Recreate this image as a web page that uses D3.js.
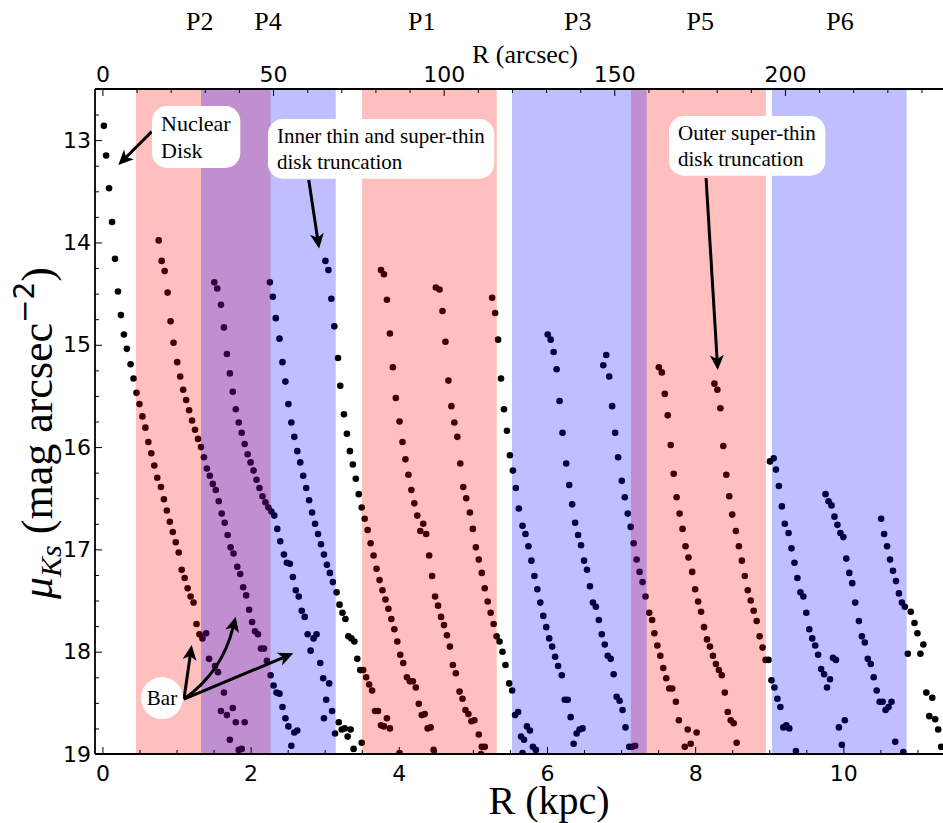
<!DOCTYPE html>
<html><head><meta charset="utf-8">
<script src="https://cdn.jsdelivr.net/npm/d3@7"></script>
<style>body{margin:0;background:#fff}svg{display:block}</style>
</head><body>
<svg id="chart" width="943" height="823"></svg>
<script>
// ---------------- data ----------------
const strand1 = [[0.02,12.86],[0.05,13.15],[0.09,13.47],[0.13,13.80],[0.17,14.16],[0.21,14.48],[0.25,14.71],[0.29,14.90],[0.33,15.04],[0.38,15.19],[0.42,15.33],[0.46,15.47],[0.50,15.58],[0.54,15.70],[0.58,15.81],[0.62,15.95],[0.66,16.06],[0.70,16.18],[0.74,16.30],[0.79,16.39],[0.83,16.51],[0.87,16.62],[0.91,16.73],[0.95,16.83],[0.99,16.93],[1.03,17.03],[1.07,17.20],[1.11,17.28],[1.15,17.38],[1.19,17.46],[1.23,17.52],[1.27,17.73],[1.31,17.83],[1.35,17.87],[1.40,17.82],[1.44,18.07],[1.52,18.14],[1.56,18.20],[1.60,18.58],[1.64,18.40],[1.68,18.62],[1.72,18.86],[1.76,18.55],[1.80,18.69],[1.84,18.96],[1.88,18.95],[1.92,18.69]];
const strand2 = [[0.76,13.98],[0.80,14.18],[0.84,14.28],[0.88,14.49],[0.92,14.77],[0.96,14.98],[1.01,15.17],[1.05,15.31],[1.09,15.44],[1.13,15.54],[1.17,15.64],[1.21,15.74],[1.25,15.83],[1.29,15.92],[1.33,16.00],[1.37,16.10],[1.41,16.21],[1.45,16.28],[1.49,16.36],[1.53,16.42],[1.57,16.53],[1.61,16.65],[1.65,16.74],[1.69,16.86],[1.73,16.98],[1.77,17.04],[1.82,17.17],[1.86,17.24],[1.90,17.37],[1.94,17.45],[1.98,17.59],[2.02,17.71],[2.06,17.80],[2.10,17.83],[2.14,17.97],[2.18,17.97],[2.22,18.09],[2.27,18.23],[2.31,18.33],[2.35,18.40],[2.39,18.41],[2.43,18.54],[2.47,18.65],[2.51,18.73],[2.55,18.92],[2.59,18.79],[2.63,18.77]];
const strand3 = [[1.51,14.39],[1.55,14.45],[1.60,14.61],[1.64,14.83],[1.68,15.09],[1.72,15.28],[1.76,15.46],[1.80,15.63],[1.84,15.76],[1.88,15.86],[1.92,15.97],[1.96,16.07],[2.00,16.15],[2.04,16.23],[2.08,16.32],[2.12,16.40],[2.16,16.48],[2.20,16.54],[2.24,16.59],[2.28,16.63],[2.32,16.67],[2.36,16.80],[2.40,16.92],[2.45,17.05],[2.49,17.13],[2.53,17.14],[2.57,17.27],[2.61,17.40],[2.65,17.46],[2.69,17.60],[2.73,17.66],[2.77,17.83],[2.81,17.99],[2.85,17.87],[2.89,17.83],[2.94,18.11],[2.98,18.26],[2.99,18.65],[3.02,18.47],[3.06,18.31],[3.10,18.58],[3.14,18.80],[3.19,18.69],[3.23,18.76],[3.27,18.75],[3.31,18.83],[3.35,18.76],[3.39,18.95],[3.50,18.89]];
const strand4 = [[2.26,14.39],[2.30,14.53],[2.34,14.74],[2.39,14.94],[2.43,15.17],[2.47,15.36],[2.51,15.58],[2.55,15.76],[2.59,15.90],[2.63,16.04],[2.67,16.15],[2.71,16.28],[2.75,16.40],[2.79,16.52],[2.83,16.64],[2.87,16.75],[2.91,16.85],[2.95,16.95],[2.99,17.05],[3.03,17.15],[3.07,17.23],[3.11,17.32],[3.16,17.42],[3.20,17.54],[3.24,17.62],[3.28,17.68],[3.32,17.85],[3.36,17.87],[3.40,17.90],[3.44,18.07],[3.48,18.18],[3.52,18.18],[3.56,18.25],[3.60,18.32],[3.64,18.38],[3.68,18.58],[3.72,18.58],[3.76,18.72],[3.80,18.73],[3.84,18.65],[3.88,18.75],[4.01,18.99]];
const strand5 = [[3.01,14.18],[3.05,14.27],[3.09,14.55],[3.13,14.82],[3.18,15.13],[3.21,15.40],[3.26,15.68],[3.30,15.87],[3.34,16.04],[3.38,16.17],[3.42,16.31],[3.46,16.46],[3.50,16.59],[3.54,16.70],[3.58,16.81],[3.62,16.94],[3.66,17.06],[3.70,17.19],[3.74,17.30],[3.78,17.40],[3.82,17.49],[3.86,17.58],[3.90,17.68],[3.94,17.78],[3.98,17.90],[4.02,18.03],[4.06,18.11],[4.11,18.25],[4.15,18.29],[4.19,18.29],[4.23,18.35],[4.27,18.51],[4.31,18.62],[4.35,18.61],[4.39,18.75],[4.43,18.74],[4.47,18.96]];
const strand6 = [[3.76,14.27],[3.80,14.31],[3.84,14.56],[3.88,14.89],[3.92,15.22],[3.96,15.52],[4.01,15.75],[4.05,15.95],[4.09,16.12],[4.13,16.27],[4.17,16.42],[4.21,16.55],[4.25,16.67],[4.29,16.82],[4.33,16.75],[4.37,16.85],[4.41,17.06],[4.45,17.26],[4.49,17.46],[4.53,17.55],[4.57,17.66],[4.61,17.74],[4.65,17.84],[4.69,17.95],[4.73,18.13],[4.77,18.21],[4.82,18.39],[4.86,18.46],[4.90,18.57],[4.94,18.61],[4.98,18.68],[5.02,18.67],[5.08,18.81],[5.11,19.00],[5.12,18.93],[5.16,18.93]];
const strand7 = [[4.50,14.44],[4.55,14.46],[4.59,14.67],[4.63,14.97],[4.67,15.35],[4.71,15.60],[4.75,15.76],[4.79,15.90],[4.83,16.16],[4.87,16.39],[4.91,16.50],[4.96,16.64],[5.00,16.80],[5.04,16.98],[5.08,17.10],[5.12,17.23],[5.16,17.38],[5.20,17.51],[5.24,17.62],[5.28,17.73],[5.32,17.85],[5.36,17.90],[5.40,18.00],[5.44,18.13],[5.49,18.31],[5.53,18.38],[5.57,18.62],[5.61,18.59],[5.65,18.83],[5.67,18.99],[5.69,18.86],[5.73,18.73],[5.77,18.77],[5.81,18.93],[5.85,18.96]];
const strand8 = [[5.26,14.54],[5.30,14.69],[5.34,14.95],[5.38,15.33],[5.42,15.63],[5.46,15.84],[5.50,16.08],[5.54,16.23],[5.58,16.40],[5.62,16.60],[5.67,16.77],[5.71,16.85],[5.75,16.97],[5.79,17.11],[5.83,17.26],[5.87,17.39],[5.91,17.52],[5.95,17.65],[5.99,17.76],[6.03,17.87],[6.07,17.95],[6.11,18.05],[6.15,18.14],[6.20,18.23],[6.24,18.47],[6.28,18.47],[6.32,18.64],[6.36,18.90],[6.40,18.80],[6.44,18.76],[6.48,18.75]];
const strand9 = [[6.01,14.90],[6.05,14.95],[6.09,15.07],[6.13,15.24],[6.17,15.55],[6.21,15.86],[6.26,16.16],[6.30,16.37],[6.34,16.56],[6.38,16.74],[6.42,16.86],[6.46,16.96],[6.50,17.11],[6.54,17.20],[6.58,17.36],[6.62,17.52],[6.66,17.56],[6.70,17.69],[6.74,17.83],[6.78,17.93],[6.82,18.04],[6.86,18.07],[6.90,18.22],[6.94,18.44],[6.98,18.48],[7.02,18.57],[7.06,18.74],[7.11,18.93],[7.15,18.93],[7.19,18.92]];
const strand10 = [[6.76,15.20],[6.80,15.10],[6.84,15.31],[6.88,15.60],[6.92,15.86],[6.96,16.10],[7.01,16.33],[7.05,16.49],[7.09,16.65],[7.13,16.78],[7.17,16.94],[7.21,17.10],[7.25,17.22],[7.29,17.32],[7.33,17.46],[7.38,17.62],[7.42,17.69],[7.45,17.82],[7.49,17.94],[7.53,18.04],[7.57,18.16],[7.61,18.26],[7.65,18.36],[7.69,18.36],[7.74,18.49],[7.78,18.67],[7.86,18.93],[7.90,18.76],[7.94,18.90],[8.02,18.79]];
const strand11 = [[7.51,15.22],[7.55,15.27],[7.59,15.48],[7.63,15.69],[7.67,15.98],[7.71,16.26],[7.75,16.49],[7.79,16.65],[7.83,16.80],[7.87,16.97],[7.91,17.08],[7.96,17.22],[8.00,17.39],[8.04,17.51],[8.08,17.61],[8.12,17.76],[8.16,17.88],[8.20,17.95],[8.24,18.04],[8.28,18.12],[8.32,18.18],[8.36,18.23],[8.40,18.40],[8.44,18.59],[8.48,18.67],[8.52,18.70],[8.56,18.89]];
const strand12 = [[8.26,15.38],[8.30,15.44],[8.34,15.62],[8.38,15.99],[8.42,16.27],[8.46,16.48],[8.50,16.66],[8.55,16.82],[8.59,16.97],[8.63,17.11],[8.67,17.26],[8.71,17.40],[8.75,17.50],[8.79,17.60],[8.83,17.70],[8.87,17.85],[8.91,17.96],[8.95,18.08],[8.99,18.08],[9.03,18.28],[9.07,18.35],[9.11,18.46],[9.15,18.54],[9.19,18.74],[9.23,18.72],[9.27,18.75],[9.36,18.97]];
const strand13 = [[9.01,16.14],[9.06,16.11],[9.09,16.22],[9.13,16.38],[9.17,16.58],[9.21,16.75],[9.26,16.84],[9.30,16.99],[9.34,17.13],[9.38,17.28],[9.42,17.42],[9.46,17.46],[9.50,17.62],[9.54,17.78],[9.58,17.87],[9.62,17.94],[9.66,18.03],[9.70,18.17],[9.74,18.22],[9.78,18.35],[9.82,18.27],[9.86,18.06],[9.90,18.08],[9.94,18.74],[9.98,18.91],[10.02,18.67]];
const strand14 = [[9.76,16.46],[9.80,16.53],[9.84,16.57],[9.88,16.68],[9.92,16.76],[9.96,16.84],[10.00,16.88],[10.04,17.09],[10.08,17.23],[10.12,17.33],[10.16,17.52],[10.21,17.70],[10.25,17.85],[10.29,17.91],[10.33,18.07],[10.37,18.12],[10.41,18.25],[10.45,18.38],[10.49,18.49],[10.53,18.49],[10.57,18.57],[10.61,18.54],[10.65,18.49],[10.70,18.88],[10.81,18.98]];
const strand15 = [[10.51,16.70],[10.55,16.85],[10.59,16.97],[10.63,17.10],[10.67,17.21],[10.71,17.31],[10.75,17.43],[10.79,17.52],[10.83,17.56],[10.87,18.02],[10.91,17.61],[10.96,17.72],[11.00,17.82],[11.04,18.02],[11.08,17.93],[11.12,18.40],[11.16,18.63],[11.20,18.45],[11.24,18.66],[11.28,18.76],[11.32,18.93]];
const strands = [strand1,strand2,strand3,strand4,strand5,strand6,strand7,strand8,strand9,strand10,strand11,strand12,strand13,strand14,strand15];

// regions (kpc)
const bandNames = ["P2","P4","P1","P3","P5","P6"];
const bandStart = [0.453,1.331,3.504,5.528,7.133,9.036];
const bandEnd   = [2.271,3.149,5.322,7.346,8.955,10.855];
const bandHue   = ["red","blue","red","blue","red","blue"];
const bandLabelX = [1.313,2.235,4.309,6.416,8.07,9.955];

// ticks
const xMajorTicks = [0,2,4,6,8,10];
const xMinorTicks = [0.5,1,1.5,2.5,3,3.5,4.5,5,5.5,6.5,7,7.5,8.5,9,9.5,10.5,11];
const yMajorTicks = [13,14,15,16,17,18,19];
const yMinorTicks = [12.75,13.25,13.5,13.75,14.25,14.5,14.75,15.25,15.5,15.75,16.25,16.5,16.75,17.25,17.5,17.75,18.25,18.5,18.75];
const topMajorTicks = [0,50,100,150,200];
const topMinorTicks = [10,20,30,40,60,70,80,90,110,120,130,140,160,170,180,190,210,220,230,240];
const kpcPerArcsec = 0.046059;

// annotations (data coordinates)
const notes = [
  {lines:["Nuclear","Disk"], tx:0.791, ty:12.911, size:22, from:[0.665,12.917], to:[0.215,13.243]},
  {lines:["Inner thin and super-thin","disk truncation"], tx:2.356, ty:13.028, size:21, from:[2.785,13.39], to:[2.925,14.06]},
  {lines:["Outer super-thin","disk truncation"], tx:7.769, ty:12.999, size:21, from:[8.147,13.37], to:[8.305,15.247]}
];
const barNote = {label:"Bar", cx:0.804, cy:18.453, from:[1.101,18.463],
  tips:[[1.205,17.935],[2.576,18.016]], curveCtrl:[1.614,18.199], curveTip:[1.799,17.658]};

// ---------------- drawing ----------------
const svg = d3.select("#chart");
const L=95, R=943, T=89, B=754;
const x = d3.scaleLinear().domain([-0.1, 11.345]).range([L, R]);
const y = d3.scaleLinear().domain([12.5, 19]).range([T, B]);
const xTop = d3.scaleLinear().domain([-0.1/kpcPerArcsec, 11.345/kpcPerArcsec]).range([L, R]);

svg.append("rect").attr("width",943).attr("height",823).attr("fill","#fff");
svg.append("clipPath").attr("id","plotclip").append("rect")
  .attr("x",L).attr("y",T).attr("width",R-L).attr("height",B-T);

const plot = svg.append("g").attr("clip-path","url(#plotclip)");
strands.forEach(s=>{
  plot.append("g").selectAll("circle").data(s).join("circle")
    .attr("cx",d=>x(d[0])).attr("cy",d=>y(d[1])).attr("r",3.3).attr("fill","#000");
});
const bandIdx = d3.range(bandNames.length);
const order = bandIdx.filter(i=>bandHue[i]==="red").concat(bandIdx.filter(i=>bandHue[i]==="blue"));
plot.append("g").selectAll("rect").data(order).join("rect")
  .attr("x",i=>x(bandStart[i])).attr("width",i=>x(bandEnd[i])-x(bandStart[i]))
  .attr("y",T).attr("height",B-T)
  .attr("fill",i=>bandHue[i]==="red"?"#ff0000":"#0000ff").attr("fill-opacity",0.25);

// axes
const tickFont = "'DejaVu Sans', sans-serif";
function styleAxis(g){ g.select(".domain").remove(); g.selectAll("line").attr("stroke","#000").attr("stroke-width",1);
  g.selectAll("text").attr("font-family",tickFont).attr("font-size",22).attr("fill","#000"); }
svg.append("g").attr("transform",`translate(0,${B})`)
  .call(d3.axisBottom(x).tickValues(xMajorTicks).tickSize(-7).tickPadding(11).tickFormat(d3.format("d"))).call(styleAxis);
svg.append("g").attr("transform",`translate(0,${B})`)
  .call(d3.axisBottom(x).tickValues(xMinorTicks).tickSize(-4).tickFormat("")).call(styleAxis);
svg.append("g").attr("transform",`translate(${L},0)`)
  .call(d3.axisLeft(y).tickValues(yMajorTicks).tickSize(-7).tickPadding(4).tickFormat(d3.format("d"))).call(styleAxis);
svg.append("g").attr("transform",`translate(${L},0)`)
  .call(d3.axisLeft(y).tickValues(yMinorTicks).tickSize(-4).tickFormat("")).call(styleAxis);
svg.append("g").attr("transform",`translate(0,${T})`)
  .call(d3.axisTop(xTop).tickValues(topMajorTicks).tickSize(-7).tickPadding(7).tickFormat(d3.format("d"))).call(styleAxis);
svg.append("g").attr("transform",`translate(0,${T})`)
  .call(d3.axisTop(xTop).tickValues(topMinorTicks).tickSize(-4).tickFormat("")).call(styleAxis);

// spines
const sp = svg.append("g").attr("stroke","#000").attr("stroke-width",1.8);
sp.append("line").attr("x1",L).attr("x2",L).attr("y1",T).attr("y2",B);
sp.append("line").attr("x1",L).attr("x2",R).attr("y1",B).attr("y2",B);
sp.append("line").attr("x1",L).attr("x2",R).attr("y1",T).attr("y2",T);

const serif = "'Liberation Serif','Times New Roman',serif";
svg.append("g").selectAll("text").data(bandIdx).join("text")
  .attr("x",i=>x(bandLabelX[i])).attr("y",30).attr("text-anchor","middle")
  .attr("font-family",serif).attr("font-size",26).text(i=>bandNames[i]);
svg.append("text").attr("x",525).attr("y",63).attr("text-anchor","middle")
  .attr("font-family",serif).attr("font-size",26).text("R (arcsec)");
svg.append("text").attr("x",549).attr("y",814).attr("text-anchor","middle")
  .attr("font-family",serif).attr("font-size",40).text("R (kpc)");
const yl = svg.append("text").attr("transform","translate(52,433) rotate(-90)")
  .attr("text-anchor","middle").attr("font-family",serif).attr("font-size",44);
yl.append("tspan").attr("font-style","italic").text("μ");
yl.append("tspan").attr("font-style","italic").attr("font-size",30).attr("dy",9).text("Ks");
yl.append("tspan").attr("dy",-9).text(" (mag arcsec");
yl.append("tspan").attr("font-family",tickFont).attr("font-size",28).attr("dy",-18).text("−2");
yl.append("tspan").attr("dy",18).text(")");

// arrows
function arrow(g, p0, p1, ctrl){
  const [x0,y0]=p0, [x1,y1]=p1;
  const ref = ctrl || p0;
  const dx=x1-ref[0], dy=y1-ref[1], len=Math.hypot(dx,dy), ux=dx/len, uy=dy/len, nx=-uy, ny=ux;
  const H=15, W=7, N=11;
  const ex=x1-ux*N, ey=y1-uy*N;
  const path = d3.path(); path.moveTo(x0,y0);
  if(ctrl) path.quadraticCurveTo(ctrl[0],ctrl[1],ex,ey); else path.lineTo(ex,ey);
  g.append("path").attr("d",path.toString()).attr("fill","none").attr("stroke","#000").attr("stroke-width",3);
  const bx=x1-ux*H, by=y1-uy*H;
  g.append("path").attr("d",`M${x1},${y1}L${bx+nx*W},${by+ny*W}L${ex},${ey}L${bx-nx*W},${by-ny*W}Z`).attr("fill","#000");
}
const ann = svg.append("g");
notes.forEach(n=>{
  const g = ann.append("g");
  arrow(g,[x(n.from[0]),y(n.from[1])],[x(n.to[0]),y(n.to[1])]);
  const bg = g.append("rect").attr("fill","#fff");
  const t = g.append("text").attr("font-family",serif).attr("font-size",n.size);
  n.lines.forEach((ln,i)=>t.append("tspan").attr("x",x(n.tx)).attr("y",y(n.ty)+i*n.size*1.22).text(ln));
  const bb = t.node().getBBox();
  bg.attr("x",bb.x-9).attr("y",bb.y-5).attr("width",bb.width+18).attr("height",bb.height+10).attr("rx",15).attr("ry",15);
});
const gb = ann.append("g");
barNote.tips.forEach(tp=>arrow(gb,[x(barNote.from[0]),y(barNote.from[1])],[x(tp[0]),y(tp[1])]));
arrow(gb,[x(barNote.from[0]),y(barNote.from[1])],[x(barNote.curveTip[0]),y(barNote.curveTip[1])],[x(barNote.curveCtrl[0]),y(barNote.curveCtrl[1])]);
gb.append("circle").attr("cx",x(barNote.cx)).attr("cy",y(barNote.cy)).attr("r",21).attr("fill","#fff");
gb.append("text").attr("x",x(barNote.cx)).attr("y",y(barNote.cy)+7).attr("text-anchor","middle")
  .attr("font-family",serif).attr("font-size",21).text(barNote.label);
</script>
</body></html>
